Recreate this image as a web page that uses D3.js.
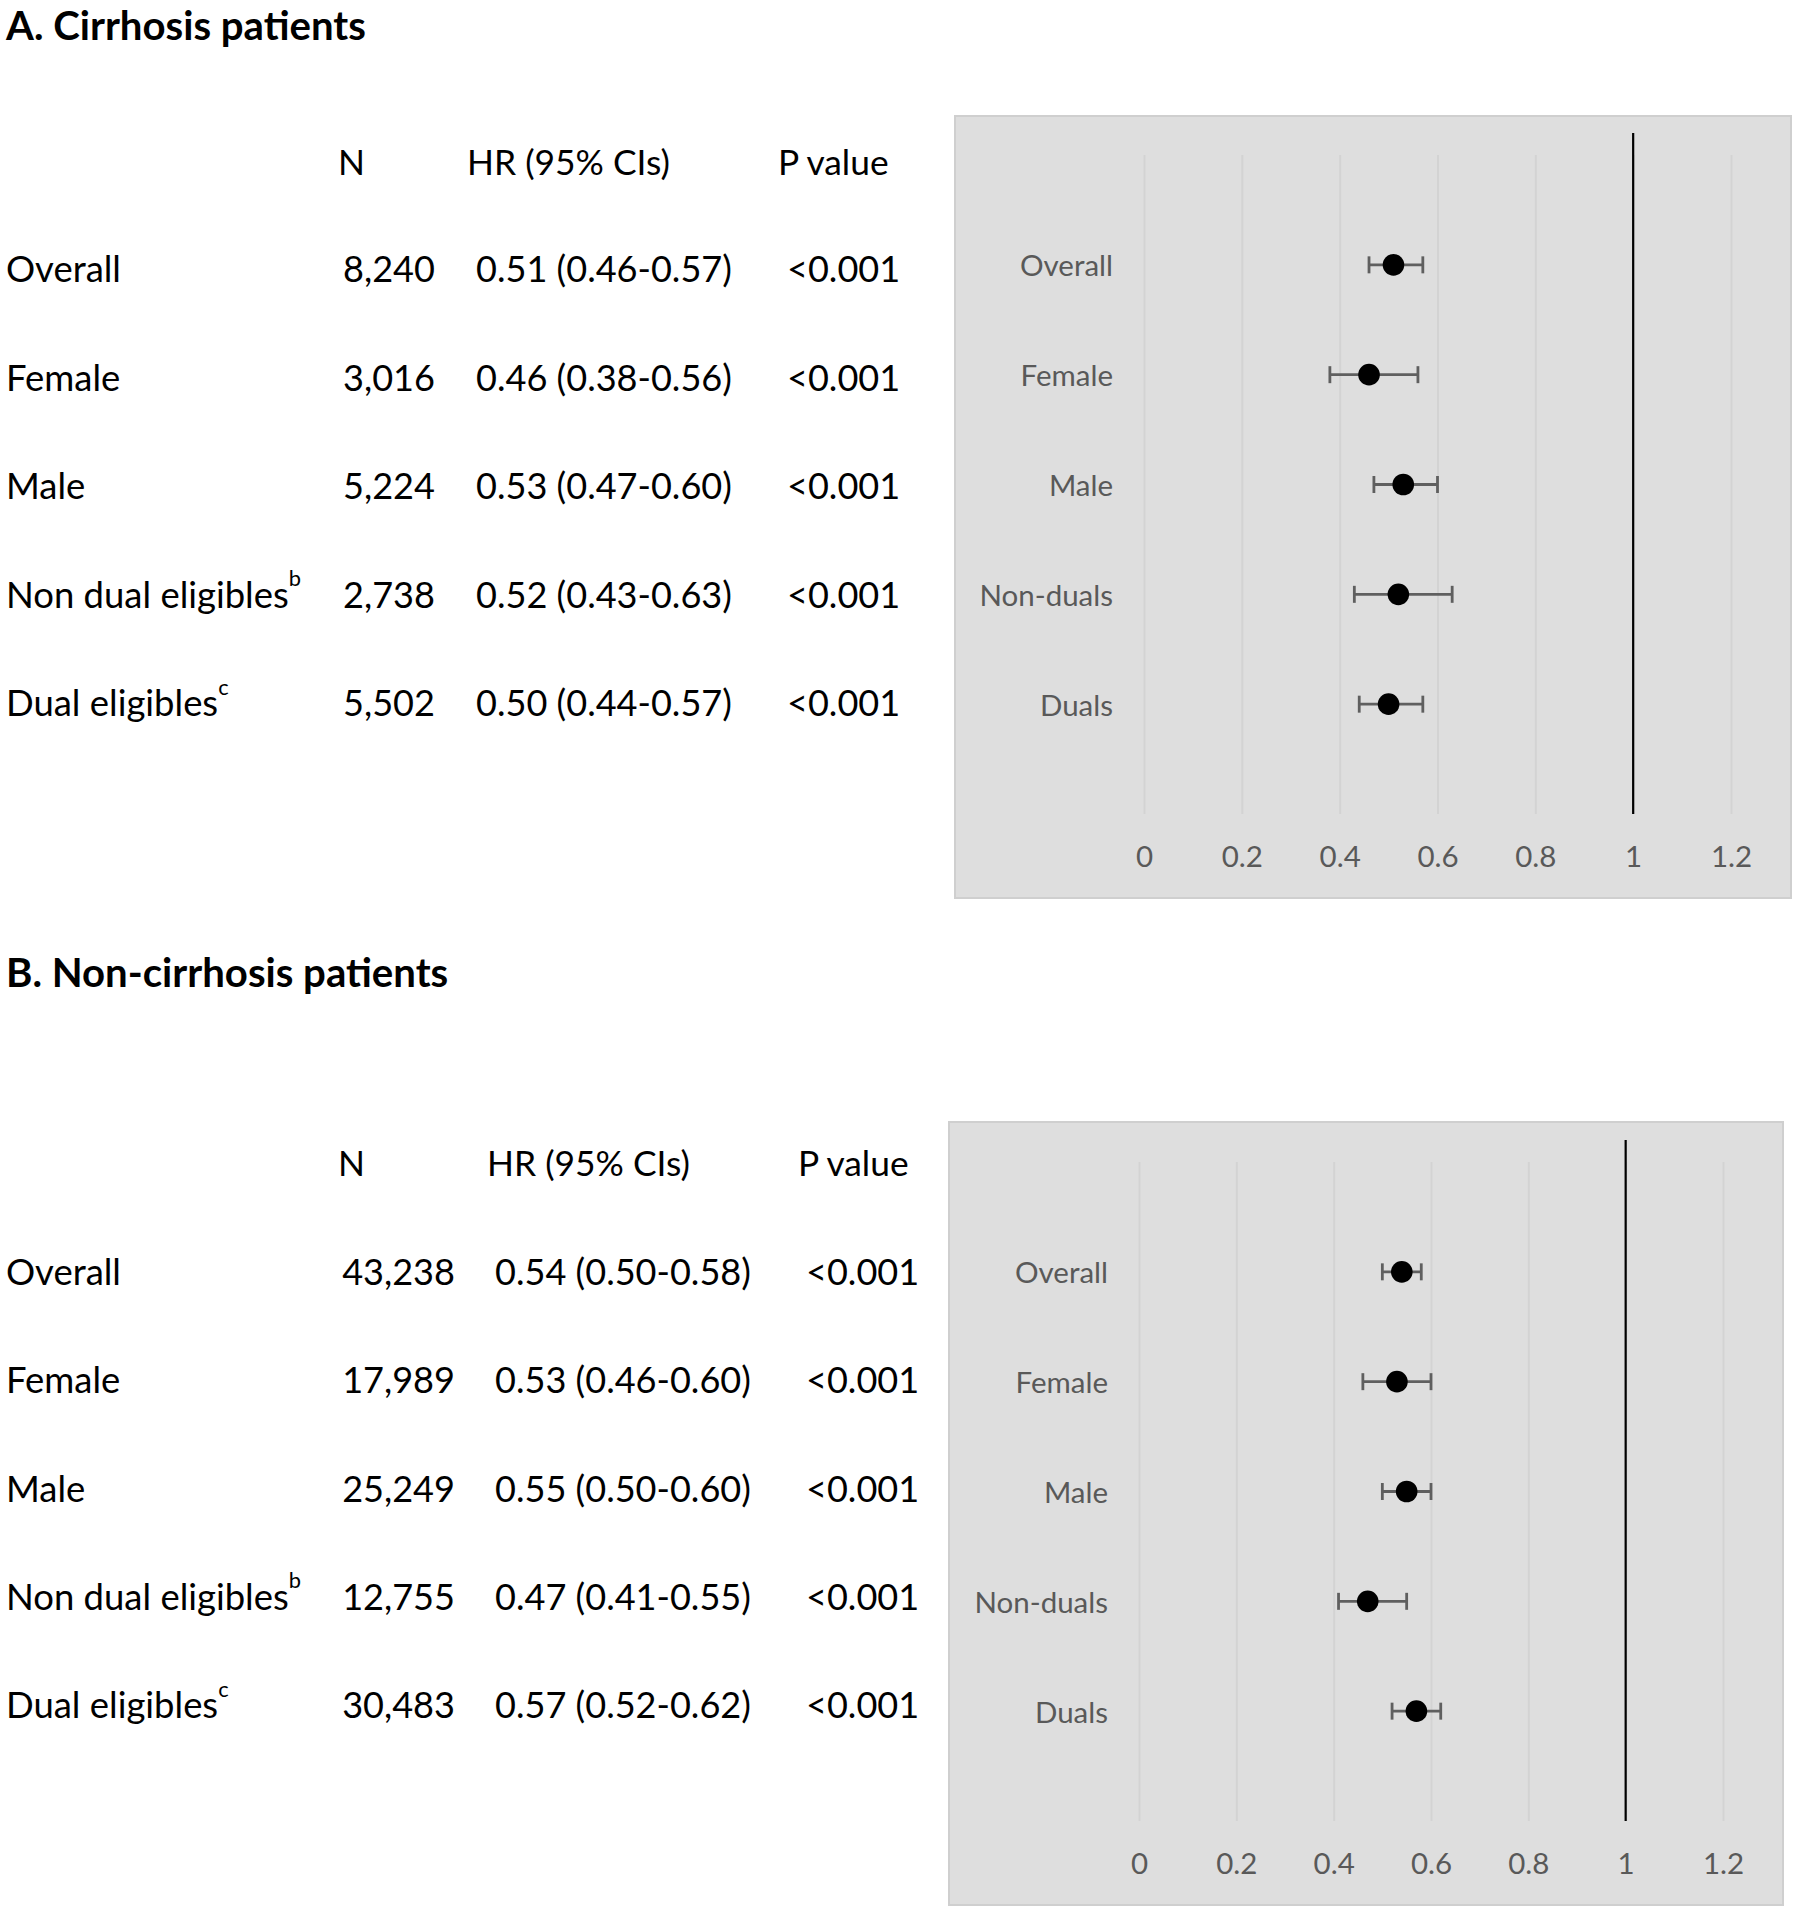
<!DOCTYPE html>
<html><head><meta charset="utf-8">
<script src="https://cdn.jsdelivr.net/npm/d3@7"></script>
<style>body{margin:0;background:#fff}svg{display:block}</style>
</head><body>
<script>
// ---------- data ----------
const categories = ["Overall", "Female", "Male", "Non-duals", "Duals"];
const tableLabels = ["Overall", "Female", "Male", "Non dual eligibles", "Dual eligibles"];
const tableSup = ["", "", "", "b", "c"];
const headers = ["N", "HR (95% CIs)", "P value"];
const xTicks = [0, 0.2, 0.4, 0.6, 0.8, 1, 1.2];

const titleA = "A. Cirrhosis patients";
const nA   = ["8,240", "3,016", "5,224", "2,738", "5,502"];
const hrA  = [0.51, 0.46, 0.53, 0.52, 0.50];
const loA  = [0.46, 0.38, 0.47, 0.43, 0.44];
const hiA  = [0.57, 0.56, 0.60, 0.63, 0.57];
const pA   = ["<0.001", "<0.001", "<0.001", "<0.001", "<0.001"];

const titleB = "B. Non-cirrhosis patients";
const nB   = ["43,238", "17,989", "25,249", "12,755", "30,483"];
const hrB  = [0.54, 0.53, 0.55, 0.47, 0.57];
const loB  = [0.50, 0.46, 0.50, 0.41, 0.52];
const hiB  = [0.58, 0.60, 0.60, 0.55, 0.62];
const pB   = ["<0.001", "<0.001", "<0.001", "<0.001", "<0.001"];

const refValue = 1;

// ---------- setup ----------
const W = 1800, H = 1912;
const FONT = "Lato, 'Noto Sans', sans-serif";
const svg = d3.select("body").append("svg").attr("width", W).attr("height", H);
svg.append("rect").attr("width", W).attr("height", H).attr("fill", "#fff");

function fitSize(str, target, weight) {
  const t = svg.append("text").attr("font-family", FONT).attr("font-size", 100)
    .attr("font-weight", weight || "normal").text(str);
  const w = t.node().getComputedTextLength();
  t.remove();
  return 100 * target / w;
}
const titleSize = fitSize(titleA, 360, "bold");
const tableSize = fitSize("Overall", 115);
const numSize   = fitSize("0.51 (0.46-0.57)", 256);
const headSize  = fitSize("HR (95% CIs)", 203);
const axisSize  = fitSize("Overall", 93);

function fmt(h, l, u) {
  const f = d3.format(".2f");
  return `${f(h)} (${f(l)}-${f(u)})`;
}

function panel(cfg) {
  const g = svg.append("g");
  // title
  g.append("text").attr("x", 6).attr("y", cfg.titleY)
    .attr("font-family", FONT).attr("font-weight", "bold").attr("font-size", titleSize)
    .attr("dominant-baseline", "central").attr("fill", "#000").text(cfg.title);

  // table header
  const hx = [cfg.colN, cfg.colHRh, cfg.colPh];
  headers.forEach((h, i) => {
    g.append("text").attr("x", hx[i]).attr("y", cfg.headerY)
      .attr("font-family", FONT).attr("font-size", headSize)
      .attr("dominant-baseline", "central").attr("fill", "#000").text(h);
  });
  // table rows
  tableLabels.forEach((lab, i) => {
    const y = cfg.rowY0 + i * cfg.rowStep;
    const t = g.append("text").attr("x", 6).attr("y", y)
      .attr("font-family", FONT).attr("font-size", tableSize)
      .attr("dominant-baseline", "central").attr("fill", "#000");
    t.append("tspan").text(lab);
    if (tableSup[i]) t.append("tspan").attr("font-size", tableSize * 0.6).attr("dy", -tableSize * 0.45).text(tableSup[i]);
    g.append("text").attr("x", cfg.colNr).attr("y", y).attr("text-anchor", "end")
      .attr("font-family", FONT).attr("font-size", numSize)
      .attr("dominant-baseline", "central").attr("fill", "#000").text(cfg.n[i]);
    g.append("text").attr("x", cfg.colHR).attr("y", y)
      .attr("font-family", FONT).attr("font-size", numSize)
      .attr("dominant-baseline", "central").attr("fill", "#000").text(fmt(cfg.hr[i], cfg.lo[i], cfg.hi[i]));
    g.append("text").attr("x", cfg.colP).attr("y", y)
      .attr("font-family", FONT).attr("font-size", numSize)
      .attr("dominant-baseline", "central").attr("fill", "#000").text(cfg.p[i]);
  });

  // chart box
  const b = cfg.box;
  g.append("rect").attr("x", b.x).attr("y", b.y).attr("width", b.w).attr("height", b.h)
    .attr("fill", "#dedede").attr("stroke", "#cfcfcf").attr("stroke-width", 2);

  const x = d3.scaleLinear().domain([0, 1.2]).range([cfg.x0, cfg.x12]);
  const y = d3.scaleLinear().domain([0, 6]).range([cfg.y0, cfg.y6]);

  // gridlines + tick labels via axis
  const ax = g.append("g").attr("transform", `translate(0,${cfg.y0})`)
    .call(d3.axisBottom(x).tickValues(xTicks).tickSize(-(cfg.y0 - cfg.y6))
      .tickFormat(d => d3.format("~g")(d)));
  ax.select(".domain").remove();
  ax.selectAll(".tick line").attr("stroke", "#d3d3d3").attr("stroke-width", 2);
  ax.selectAll(".tick text").attr("fill", "#595959").attr("font-family", FONT)
    .attr("font-size", axisSize).attr("dy", null).attr("y", cfg.tickDy)
    .attr("dominant-baseline", "central");

  // reference line
  g.append("line").attr("x1", x(refValue)).attr("x2", x(refValue))
    .attr("y1", y(6.2)).attr("y2", y(0)).attr("stroke", "#000").attr("stroke-width", 2.2);

  // category labels
  categories.forEach((c, i) => {
    g.append("text").attr("x", cfg.x0 - 31).attr("y", y(5 - i)).attr("text-anchor", "end")
      .attr("font-family", FONT).attr("font-size", axisSize).attr("fill", "#595959")
      .attr("dominant-baseline", "central").text(c);
  });

  // error bars and points
  const rows = categories.map((c, i) => ({c, v: 5 - i, hr: cfg.hr[i], lo: cfg.lo[i], hi: cfg.hi[i]}));
  const eb = g.append("g").attr("stroke", "#5f5f5f").attr("stroke-width", 2.8);
  rows.forEach(r => {
    eb.append("line").attr("x1", x(r.lo)).attr("x2", x(r.hi)).attr("y1", y(r.v)).attr("y2", y(r.v));
    eb.append("line").attr("x1", x(r.lo)).attr("x2", x(r.lo)).attr("y1", y(r.v) - 8.5).attr("y2", y(r.v) + 8.5);
    eb.append("line").attr("x1", x(r.hi)).attr("x2", x(r.hi)).attr("y1", y(r.v) - 8.5).attr("y2", y(r.v) + 8.5);
  });
  g.append("g").selectAll("circle").data(rows).join("circle")
    .attr("cx", d => x(d.hr)).attr("cy", d => y(d.v)).attr("r", 10.8).attr("fill", "#000");
}

panel({
  title: titleA, titleY: 24, headerY: 161,
  rowY0: 268, rowStep: 108.5,
  colN: 338, colNr: 435, colHRh: 467, colHR: 476, colPh: 778, colP: 787,
  n: nA, hr: hrA, lo: loA, hi: hiA, p: pA,
  box: {x: 955, y: 116, w: 836, h: 782},
  x0: 1144, x12: 1731, y0: 814, y6: 155, tickDy: 41
});
panel({
  title: titleB, titleY: 971, headerY: 1162,
  rowY0: 1271, rowStep: 108.3,
  colN: 338, colNr: 455, colHRh: 487, colHR: 495, colPh: 798, colP: 806,
  n: nB, hr: hrB, lo: loB, hi: hiB, p: pB,
  box: {x: 949, y: 1122, w: 834, h: 783},
  x0: 1139, x12: 1723, y0: 1821, y6: 1162, tickDy: 41
});
</script>
</body></html>
